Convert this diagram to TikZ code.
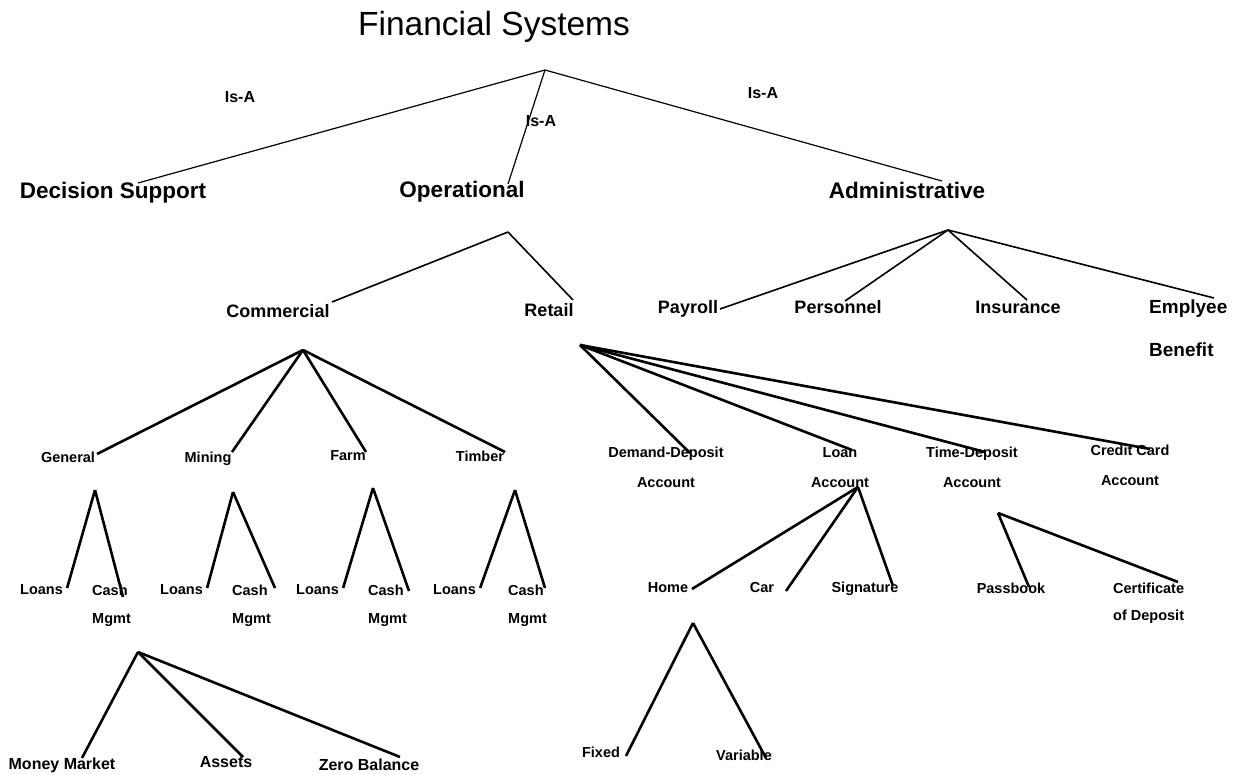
\documentclass[tikz,border=0pt]{standalone}
\usepackage{fontspec}
\setmainfont{Liberation Sans}

\begin{document}
\begin{tikzpicture}[
  x=1pt, y=-1pt,
  every node/.style={inner sep=0pt, font=\bfseries},
  title/.style={font=\fontsize{33.5}{38}\selectfont},
  isa/.style={font=\bfseries\fontsize{16}{18}\selectfont},
  upper/.style={font=\bfseries\fontsize{22.5}{26}\selectfont},
  middle/.style={font=\bfseries\fontsize{18}{21}\selectfont},
  leaf/.style={font=\bfseries\fontsize{14.5}{17}\selectfont},
  bottom/.style={font=\bfseries\fontsize{16}{19}\selectfont},
  twoline/.style={font=\bfseries\fontsize{14.5}{30}\selectfont, align=center, anchor=north},
  rootlink/.style={draw, line width=1.2pt},
  link/.style={draw, line width=1.6pt},
  heavylink/.style={draw, line width=2.6pt}
]
  \path[use as bounding box, fill=white] (0,0) rectangle (1245,775);

  % top level
  \node[title] (fin) at (494,27) {Financial Systems};
  \coordinate (root) at (545,70);
  \node[isa] (isa1) at (240,97) {Is-A};
  \node[isa] (isa2) at (541,121) {Is-A};
  \node[isa] (isa3) at (763,93) {Is-A};
  \node[upper] (dss) at (113,193) {Decision Support};
  \node[upper] (oper) at (462,192) {Operational};
  \node[upper] (admin) at (907,190) {Administrative};
  \draw[rootlink] (root) -- ([shift={(25,-10)}]dss.center);
  \draw[rootlink] (root) -- ([shift={(46,-8)}]oper.center);
  \draw[rootlink] (root) -- ([shift={(35,-9)}]admin.center);

  % operational
  \coordinate (opTop) at (508,232);
  \node[middle] (comm) at (278,311) {Commercial};
  \node[middle] (retail) at (549,310) {Retail};
  \draw[link] (opTop) -- ([shift={(54,-9)}]comm.center);
  \draw[link] (opTop) -- ([shift={(24,-10)}]retail.center);

  % administrative
  \coordinate (adTop) at (948,230);
  \node[middle] (payroll) at (688,309) {Payroll};
  \node[middle] (personnel) at (838,307) {Personnel};
  \node[middle] (insurance) at (1018,307) {Insurance};
  \node[middle, align=left, anchor=north west, font=\bfseries\fontsize{19}{43}\selectfont]
    (benefit) at (1149,300) {Emplyee\\Benefit};
  \draw[link] (adTop) -- ([shift={(32,0)}]payroll.center);
  \draw[link] (adTop) -- ([shift={(7,-6)}]personnel.center);
  \draw[link] (adTop) -- ([shift={(9,-7)}]insurance.center);
  \draw[link] (adTop) -- ([shift={(65,-2)}]benefit.north west);

  % commercial
  \coordinate (cTop) at (303,350);
  \node[leaf] (general) at (68,457) {General};
  \node[leaf] (mining) at (208,459) {Mining};
  \node[leaf] (farm) at (348,456) {Farm};
  \node[leaf] (timber) at (480,456) {Timber};
  \draw[heavylink] (cTop) -- ([shift={(29,-3)}]general.center);
  \draw[heavylink] (cTop) -- ([shift={(24,-7)}]mining.center);
  \draw[heavylink] (cTop) -- ([shift={(18,-4)}]farm.center);
  \draw[heavylink] (cTop) -- ([shift={(25,-4)}]timber.center);

  % loans and cash mgmt under each line of business
  \foreach \nm/\ax/\ay/\lx/\cx/\rx/\ry in
      {gen/95/490/20/92/31/12, min/233/492/160/232/43/3,
       farm/373/488/296/368/41/6, tim/515/490/433/508/37/3} {
    \coordinate (top-\nm) at (\ax,\ay);
    \node[leaf, anchor=west] (loans-\nm) at (\lx,590) {Loans};
    \node[twoline, font=\bfseries\fontsize{14.5}{28}\selectfont, align=left, anchor=north west]
      (cash-\nm) at (\cx,585) {Cash\\Mgmt};
    \draw[heavylink] (top-\nm) -- ([shift={(4,-2)}]loans-\nm.east);
    \draw[heavylink] (top-\nm) -- ([shift={(\rx,\ry)}]cash-\nm.north west);
  }

  % cash mgmt
  \coordinate (cmTop) at (138,652);
  \node[bottom] (money) at (62,765) {Money Market};
  \node[bottom] (assets) at (226,762) {Assets};
  \node[bottom] (zero) at (369,765) {Zero Balance};
  \draw[heavylink] (cmTop) -- ([shift={(20,-7)}]money.center);
  \draw[heavylink] (cmTop) -- ([shift={(17,-5)}]assets.center);
  \draw[heavylink] (cmTop) -- ([shift={(31,-8)}]zero.center);

  % retail
  \coordinate (rTop) at (580,345);
  \node[twoline] (demand) at (666,447) {Demand-Deposit\\Account};
  \node[twoline] (loan) at (840,447) {Loan\\Account};
  \node[twoline] (time) at (972,447) {Time-Deposit\\Account};
  \node[twoline] (credit) at (1130,445) {Credit Card\\Account};
  \draw[heavylink] (rTop) -- ([shift={(24,6)}]demand.north);
  \draw[heavylink] (rTop) -- ([shift={(12,3)}]loan.north);
  \draw[heavylink] (rTop) -- ([shift={(13,5)}]time.north);
  \draw[heavylink] (rTop) -- ([shift={(20,4)}]credit.north);

  % loan account
  \coordinate (lTop) at (858,487);
  \node[leaf] (home) at (668,588) {Home};
  \node[leaf] (car) at (762,588) {Car};
  \node[leaf] (sign) at (865,589) {Signature};
  \draw[heavylink] (lTop) -- ([shift={(24,1)}]home.center);
  \draw[heavylink] (lTop) -- ([shift={(24,3)}]car.center);
  \draw[heavylink] (lTop) -- ([shift={(28,-3)}]sign.center);

  % time-deposit account
  \coordinate (tTop) at (998,513);
  \node[leaf] (passbook) at (1011,588) {Passbook};
  \node[twoline, font=\bfseries\fontsize{14.5}{27}\selectfont, align=left, anchor=north west]
    (cert) at (1113,583) {Certificate\\of Deposit};
  \draw[heavylink] (tTop) -- ([shift={(18,-1)}]passbook.center);
  \draw[heavylink] (tTop) -- ([shift={(65,-1)}]cert.north west);

  % home
  \coordinate (hTop) at (693,623);
  \node[leaf] (fixed) at (601,752) {Fixed};
  \node[leaf] (variable) at (744,755) {Variable};
  \draw[heavylink] (hTop) -- ([shift={(25,4)}]fixed.center);
  \draw[heavylink] (hTop) -- ([shift={(22,3)}]variable.center);
\end{tikzpicture}
\end{document}
